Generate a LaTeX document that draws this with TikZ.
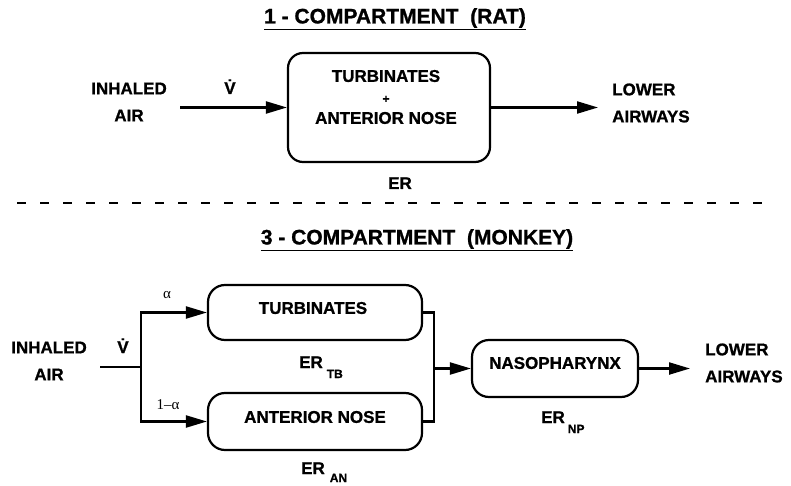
\documentclass[tikz,border=0pt]{standalone}
\usepackage{fontspec}
\setmainfont{Liberation Sans}[BoldFeatures={FakeBold=1.0}]
\newfontfamily\serifalpha{Liberation Serif}
\usetikzlibrary{arrows.meta}
\newcommand{\bodyf}{\fontsize{17}{27}\selectfont\bfseries}
\newcommand{\titlef}{\fontsize{21}{22}\selectfont\bfseries}
\newcommand{\subf}{\fontsize{12}{12}\selectfont\bfseries}
\tikzset{
  blk/.style={draw, line width=2.2pt, rounded corners=15pt, inner sep=0pt},
  lbl/.style={font=\bodyf, inner sep=0pt, align=center},
  lbll/.style={font=\bodyf, inner sep=0pt, align=left, anchor=west},
  ttl/.style={font=\titlef, inner sep=0pt},
  grk/.style={font=\fontsize{15}{15}\selectfont, inner sep=0pt},
  arr/.style={line width=2.2pt, -{Triangle[length=21pt,width=12pt]}},
  wire/.style={line width=2.2pt}
}
\begin{document}
\begin{tikzpicture}[x=1pt,y=-1pt]
\useasboundingbox (0,0) rectangle (791,486);
% ---------- top: 1-compartment ----------
\node[ttl] (t1) at (395,19) {\underline{1 - COMPARTMENT\ \ (RAT)}};
\node[blk, minimum width=202pt, minimum height=109pt] (box1) at (389,107.5) {};
\node[lbl, font=\fontsize{17}{21}\selectfont\bfseries] (box1t) at (386,97) {TURBINATES\\{\fontsize{12}{12}\selectfont +}\\ANTERIOR NOSE};
\node[lbl] (in1) at (129,102) {INHALED\\AIR};
\node[lbl, anchor=base] (v1) at (230,94) {\.{V}};
\node[lbll] (out1) at (612,103) {LOWER\\AIRWAYS};
\node[lbl, anchor=base] (er1) at (400,189) {ER};
\coordinate (s1) at (180,107.5);
\coordinate (e1) at (598,107.5);
\draw[arr] (s1) -- (box1.west);
\draw[arr] (box1.east) -- (e1);
% ---------- separator ----------
\coordinate (d1) at (17,203);
\coordinate (d2) at (772,203);
\draw[line width=2.2pt, dash pattern=on 9pt off 14pt] (d1) -- (d2);
% ---------- bottom: 3-compartment ----------
\node[ttl] (t3) at (417,240) {\underline{3 - COMPARTMENT\ \ (MONKEY)}};
\node[blk, minimum width=214pt, minimum height=55pt, rounded corners=17pt] (tb) at (315,312.5) {};
\node[blk, minimum width=214pt, minimum height=57pt, rounded corners=17pt] (an) at (315,421.5) {};
\node[blk, minimum width=166pt, minimum height=57pt, rounded corners=17pt] (np) at (555,368.5) {};
\node[lbl] (tbt) at (313,308) {TURBINATES};
\node[lbl] (ant) at (315,417) {ANTERIOR NOSE};
\node[lbl] (npt) at (555,363) {NASOPHARYNX};
\node[lbl, anchor=base west] (ertb) at (299,368) {ER\hspace{4pt}\raisebox{-10pt}{\subf TB}};
\node[lbl, anchor=base west] (eran) at (301,474) {ER\hspace{5pt}\raisebox{-8pt}{\subf AN}};
\node[lbl, anchor=base west] (ernp) at (541,423) {ER\hspace{3pt}\raisebox{-10pt}{\subf NP}};
\node[lbl] (in3) at (49,361) {INHALED\\AIR};
\node[lbl, anchor=base] (v3) at (123,353) {\.{V}};
\node[lbll] (out3) at (705,363) {LOWER\\AIRWAYS};
\node[grk] (al) at (167,295) {\serifalpha α};
\node[grk] (oma) at (168,405) {\serifalpha 1–α};
\coordinate (s3) at (100,367);
\coordinate (j3) at (141,367);
\coordinate (m3) at (434,368.5);
\coordinate (e3) at (690,368.5);
\draw[wire] (s3) -- (j3);
\draw[arr] (j3) |- (tb.west);
\draw[arr] (j3) |- (an.west);
\draw[wire] (tb.east) -| (m3) |- (an.east);
\draw[arr] (m3) -- (np.west);
\draw[arr] (np.east) -- (e3);
\end{tikzpicture}
\end{document}
